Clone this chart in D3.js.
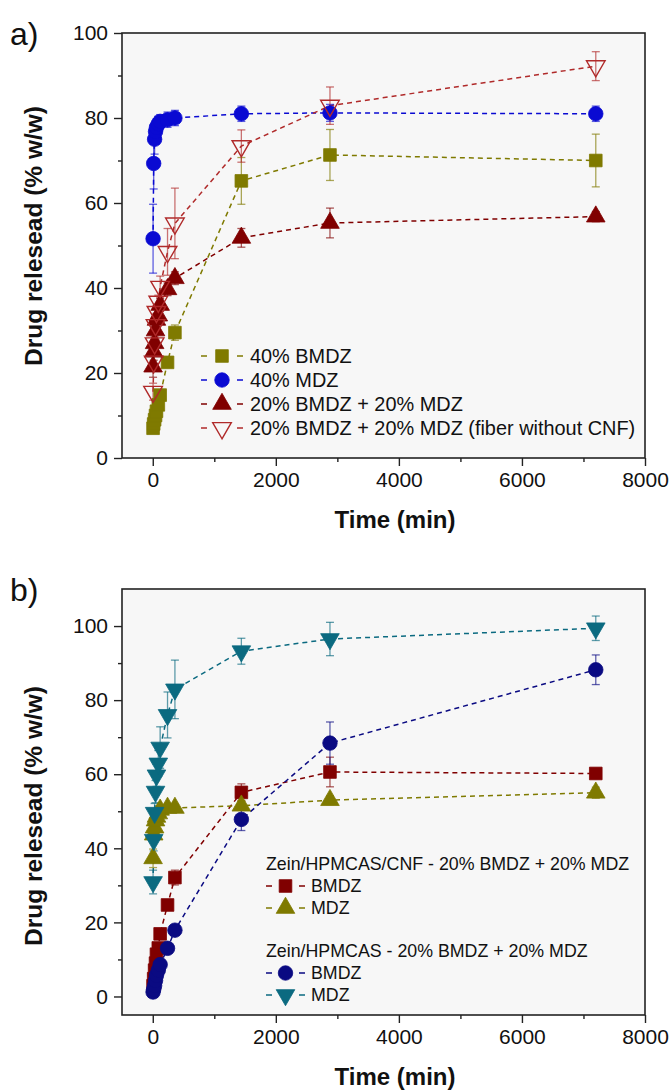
<!DOCTYPE html>
<html>
<head>
<meta charset="utf-8">
<script src="https://cdn.jsdelivr.net/npm/d3@7"></script>
<style>
  body { margin: 0; background: #fff; }
  svg text { font-family: "Liberation Sans", Arial, sans-serif; fill: #111; }
</style>
</head>
<body>
<svg id="chart" width="671" height="1091"></svg>
<script>
// sampling times (min), same for every series
const times = [5, 15, 30, 45, 60, 90, 120, 240, 360, 1440, 2880, 7200];

// panel a
const bmdz40 = [7, 8, 9, 10, 11, 12.5, 14.8, 22.5, 29.5, 65.2, 71.3, 70];
const bmdz40Err = [0.5, 0.5, 0.5, 0.5, 0.5, 0.5, 0.8, 1.2, 1.8, 5.5, 6, 6.2];
const mdz40 = [51.6, 69.3, 75, 76.8, 77.8, 78.6, 79.2, 79.6, 80, 81, 81.2, 81];
const mdz40Err = [8.1, 6, 3.5, 2.5, 2, 1.8, 1.6, 1.8, 1.8, 1.8, 2, 1.8];
const dual = [21.5, 25, 27, 30, 32.5, 33.5, 36, 39.7, 42.3, 51.8, 55.3, 56.8];
const dualErr = [2.5, 2, 2, 2, 1.5, 1.5, 1.5, 1.5, 1.5, 2.2, 3.5, 1.2];
const dualNoCnf = [15.6, 22.7, 27, 31.3, 34.4, 36.8, 40.3, 48.5, 55.2, 73.4, 82.9, 92.2];
const dualNoCnfErr = [2, 2, 1.5, 1.5, 1.5, 1.5, 2.5, 5.5, 8.3, 3.8, 4.4, 3.4];

// panel b
const bmdzCnf = [2.9, 4.8, 7.1, 9, 11.4, 13.1, 16.9, 24.7, 32.1, 55.1, 60.6, 60.2];
const bmdzCnfErr = [0.5, 0.5, 0.5, 0.5, 0.5, 0.5, 0.8, 1, 2, 2.3, 4, 1];
const mdzCnf = [37.3, 43.7, 45.6, 47.5, 48.5, 49.4, 50.4, 50.9, 50.9, 51.5, 53, 55];
const mdzCnfErr = [2.5, 2, 1.5, 1.5, 1.2, 1.2, 1, 1, 1, 1.2, 1.2, 1.5];
const bmdzNo = [1.2, 1.9, 2.9, 4.3, 5.7, 7.1, 8.6, 13, 17.9, 47.8, 68.4, 88.2];
const bmdzNoErr = [0.3, 0.3, 0.3, 0.4, 0.5, 0.5, 0.6, 0.8, 1, 3, 5.7, 4];
const mdzNo = [30.9, 42.3, 49.6, 55.3, 59.7, 62.9, 67.2, 76, 82.9, 93.2, 96.5, 99.4];
const mdzNoErr = [3.2, 3, 2.5, 3, 3, 3.5, 5.6, 6.2, 7.9, 3.5, 4.5, 3.3];

const xTicks = [0, 2000, 4000, 6000, 8000];
const yTicks = [0, 20, 40, 60, 80, 100];

const svg = d3.select("#chart");

const panels = [
  {
    label: "a)", top: 33, bottom: 458, yDomain: [0, 100], titleY: 236,
    series: [
      { name: "40% BMDZ", y: bmdz40, err: bmdz40Err, color: "#7f7a00", shape: "square", fill: true },
      { name: "40% MDZ", y: mdz40, err: mdz40Err, color: "#0a0ad2", shape: "circle", fill: true },
      { name: "20% BMDZ + 20% MDZ", y: dual, err: dualErr, color: "#800000", shape: "up", fill: true },
      { name: "20% BMDZ + 20% MDZ (fiber without CNF)", y: dualNoCnf, err: dualNoCnfErr, color: "#b02a2a", shape: "down", fill: false }
    ],
    legend: { x: 201, fontSize: 19.9, mark: 21, text: 49, rowY: [356, 380, 404, 428] }
  },
  {
    label: "b)", top: 589, bottom: 1015, yDomain: [-5, 110], titleY: 816,
    series: [
      { name: "BMDZ", y: bmdzCnf, err: bmdzCnfErr, color: "#800000", shape: "square", fill: true },
      { name: "MDZ", y: mdzCnf, err: mdzCnfErr, color: "#7f7a00", shape: "up", fill: true },
      { name: "BMDZ", y: bmdzNo, err: bmdzNoErr, color: "#0a0a82", shape: "circle", fill: true },
      { name: "MDZ", y: mdzNo, err: mdzNoErr, color: "#0b6a80", shape: "down", fill: true }
    ],
    legend: {
      x: 266, fontSize: 17.8, mark: 19.5, text: 45,
      headers: [
        { text: "Zein/HPMCAS/CNF - 20% BMDZ + 20% MDZ", y: 864 },
        { text: "Zein/HPMCAS - 20% BMDZ + 20% MDZ", y: 951 }
      ],
      rowY: [886, 908, 973, 995]
    }
  }
];

const left = 122, right = 645;

function symbolFor(shape) {
  if (shape === "square") return d3.symbol().type(d3.symbolSquare).size(160)();
  if (shape === "circle") return d3.symbol().type(d3.symbolCircle).size(165)();
  return d3.symbol().type(d3.symbolTriangle).size(150)();
}

function drawMarker(g, s, x, y) {
  return g.append("path")
    .attr("d", symbolFor(s.shape))
    .attr("transform", `translate(${x},${y})` + (s.shape === "down" ? " rotate(180)" : ""))
    .attr("fill", s.fill ? s.color : "none")
    .attr("stroke", s.color)
    .attr("stroke-width", s.fill ? 0.8 : 1.4);
}

panels.forEach(p => {
  const x = d3.scaleLinear().domain([-500, 8000]).range([left, right]);
  const y = d3.scaleLinear().domain(p.yDomain).range([p.bottom, p.top]);
  const g = svg.append("g");

  g.append("rect")
    .attr("x", left).attr("y", p.top)
    .attr("width", right - left).attr("height", p.bottom - p.top)
    .attr("fill", "#f7f7f7");

  // axes
  g.append("g").attr("transform", `translate(0,${p.bottom})`)
    .call(d3.axisBottom(x).tickValues(xTicks).tickFormat(d3.format("d")).tickSize(8).tickPadding(6));
  g.append("g").attr("transform", `translate(0,${p.bottom})`)
    .call(d3.axisBottom(x).tickValues([1000, 3000, 5000, 7000]).tickFormat("").tickSize(4));
  g.append("g").attr("transform", `translate(${left},0)`)
    .call(d3.axisLeft(y).tickValues(yTicks).tickSize(8).tickPadding(6));
  g.append("g").attr("transform", `translate(${left},0)`)
    .call(d3.axisLeft(y).tickValues(d3.range(10, p.yDomain[1], 20)).tickFormat("").tickSize(4));
  g.selectAll(".domain").remove();
  g.selectAll(".tick line").attr("stroke", "#222").attr("stroke-width", 1.4);
  g.selectAll(".tick text").attr("font-size", 21).attr("fill", "#111")
    .attr("font-family", "'Liberation Sans', Arial, sans-serif");

  // series
  const plot = g.append("g");
  const line = d3.line().x((d, i) => x(times[i])).y(d => y(d));
  p.series.forEach(s => {
    plot.append("path")
      .attr("d", line(s.y))
      .attr("fill", "none")
      .attr("stroke", s.color)
      .attr("stroke-width", 1.5)
      .attr("stroke-dasharray", "5,4");
  });
  p.series.forEach(s => {
    const eg = plot.append("g").attr("stroke", s.color).attr("stroke-opacity", 0.65).attr("stroke-width", 1.3);
    s.y.forEach((v, i) => {
      const cx = x(times[i]);
      const y0 = y(v - s.err[i]), y1 = y(v + s.err[i]);
      eg.append("line").attr("x1", cx).attr("x2", cx).attr("y1", y0).attr("y2", y1);
      eg.append("line").attr("x1", cx - 4).attr("x2", cx + 4).attr("y1", y0).attr("y2", y0);
      eg.append("line").attr("x1", cx - 4).attr("x2", cx + 4).attr("y1", y1).attr("y2", y1);
    });
  });
  p.series.forEach(s => {
    s.y.forEach((v, i) => drawMarker(plot, s, x(times[i]), y(v)));
  });

  // frame
  g.append("rect")
    .attr("x", left).attr("y", p.top)
    .attr("width", right - left).attr("height", p.bottom - p.top)
    .attr("fill", "none").attr("stroke", "#222").attr("stroke-width", 1.6);

  // legend
  const L = p.legend;
  const lg = g.append("g");
  (L.headers || []).forEach(h => {
    lg.append("text").attr("x", L.x).attr("y", h.y).attr("dy", "0.35em")
      .attr("font-size", L.fontSize).text(h.text);
  });
  p.series.forEach((s, i) => {
    const ly = L.rowY[i];
    lg.append("line").attr("x1", L.x).attr("x2", L.x + 6).attr("y1", ly).attr("y2", ly)
      .attr("stroke", s.color).attr("stroke-width", 1.5);
    lg.append("line").attr("x1", L.x + 2 * L.mark - 6).attr("x2", L.x + 2 * L.mark).attr("y1", ly).attr("y2", ly)
      .attr("stroke", s.color).attr("stroke-width", 1.5);
    drawMarker(lg, s, L.x + L.mark, ly);
    lg.append("text").attr("x", L.x + L.text).attr("y", ly).attr("dy", "0.35em")
      .attr("font-size", L.fontSize).text(s.name);
  });

  // titles
  g.append("text")
    .attr("transform", `translate(42,${p.titleY}) rotate(-90)`)
    .attr("text-anchor", "middle").attr("font-weight", "bold").attr("font-size", 24.5)
    .text("Drug relesead (% w/w)");
  g.append("text")
    .attr("x", 395).attr("y", p.bottom + 62).attr("dy", "0.35em")
    .attr("text-anchor", "middle").attr("font-weight", "bold").attr("font-size", 24)
    .text("Time (min)");
  g.append("text")
    .attr("x", 10).attr("y", p.top + 12)
    .attr("font-size", 32).text(p.label);
});
</script>
</body>
</html>
